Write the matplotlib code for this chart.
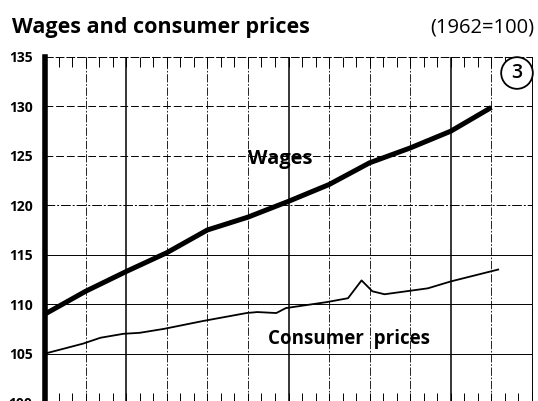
import matplotlib
matplotlib.use("Agg")
import matplotlib.pyplot as plt

# Data (x in months from start; 1962 = 100)
wage_months = [0, 3, 6, 9, 12, 15, 18, 21, 24, 27, 30, 33]
wage_values = [109.0, 111.3, 113.3, 115.2, 117.5, 118.8, 120.4, 122.1, 124.3, 125.8, 127.5, 129.9]

cp_months = [0, 2.8, 4.1, 5.8, 7.0, 8.8, 11.7, 14.9, 15.7, 17.1, 17.8, 20.8, 22.4, 23.4, 24.2, 25.1, 28.3, 30.0, 33.5]
cp_values = [105.0, 106.0, 106.6, 107.0, 107.1, 107.5, 108.3, 109.1, 109.2, 109.1, 109.6, 110.2, 110.6, 112.4, 111.3, 111.0, 111.6, 112.3, 113.5]

y_ticks = [100, 105, 110, 115, 120, 125, 130, 135]
grid_months = [3, 6, 9, 12, 15, 18, 21, 24, 27, 30, 33]
bold_months = [6, 18, 30]

title = "Wages and consumer prices"
subtitle = "(1962=100)"

FONT = "Open Sans"

W, H = 538, 401
fig = plt.figure(figsize=(W / 100, H / 100), dpi=100)
ax = fig.add_axes([45 / W, -2 / H, 487 / W, (403 - 57) / H])
ax.set_xlim(0, 36)
ax.set_ylim(100, 135)

# horizontal grid
hstyles = {105: '-', 110: '-', 115: '-', 120: (0, (10, 2, 2, 2)), 125: (0, (8, 3)), 130: (0, (8, 3))}
for y, ls in hstyles.items():
    ax.axhline(y, color='black', lw=0.7, ls=ls, zorder=1)

# vertical grid
for m in grid_months:
    if m in bold_months:
        ax.axvline(m, color='black', lw=1.1, zorder=1)
    else:
        ax.axvline(m, color='black', lw=0.6, ls=(0, (10, 2, 2, 2)), zorder=1)

# series
ax.plot(wage_months, wage_values, color='black', lw=3.6, solid_capstyle='butt', zorder=3)
ax.plot(cp_months, cp_values, color='black', lw=1.3, zorder=3)

# spines
ax.spines['left'].set_linewidth(4)
ax.spines['right'].set_linewidth(0.7)
ax.spines['top'].set_linewidth(0.7)
ax.spines['top'].set_linestyle((0, (8, 3)))
ax.spines['bottom'].set_linewidth(0.7)

ax.set_yticks(y_ticks)
ax.set_yticklabels([str(v) for v in y_ticks], fontfamily=FONT, fontsize=10, fontweight='bold')
ax.tick_params(axis='y', length=0, pad=9)
ax.set_xticks(range(0, 37))
ax.set_xticklabels([])
ax.tick_params(axis='x', direction='in', length=7, width=0.7, top=True, bottom=True)

ax.text(17.4, 124.7, "Wages", fontfamily=FONT, fontsize=14.5, fontweight='bold',
        ha='center', va='center', zorder=4)
ax.text(22.5, 106.5, "Consumer  prices", fontfamily=FONT, fontsize=13.5, fontweight='bold',
        ha='center', va='center', zorder=4)

fig.text(12 / W, 1 - 28 / H, title, fontfamily=FONT, fontsize=15.5, fontweight='bold',
         ha='left', va='center')
fig.text(534 / W, 1 - 28 / H, subtitle, fontfamily=FONT, fontsize=14.5,
         ha='right', va='center')
fig.text(517 / W, 1 - 73 / H, "3", fontfamily=FONT, fontsize=14, fontweight='semibold',
         ha='center', va='center',
         bbox=dict(boxstyle='circle,pad=0.3', fc='white', ec='black', lw=1.3))

fig.savefig("out.png", dpi=100)
